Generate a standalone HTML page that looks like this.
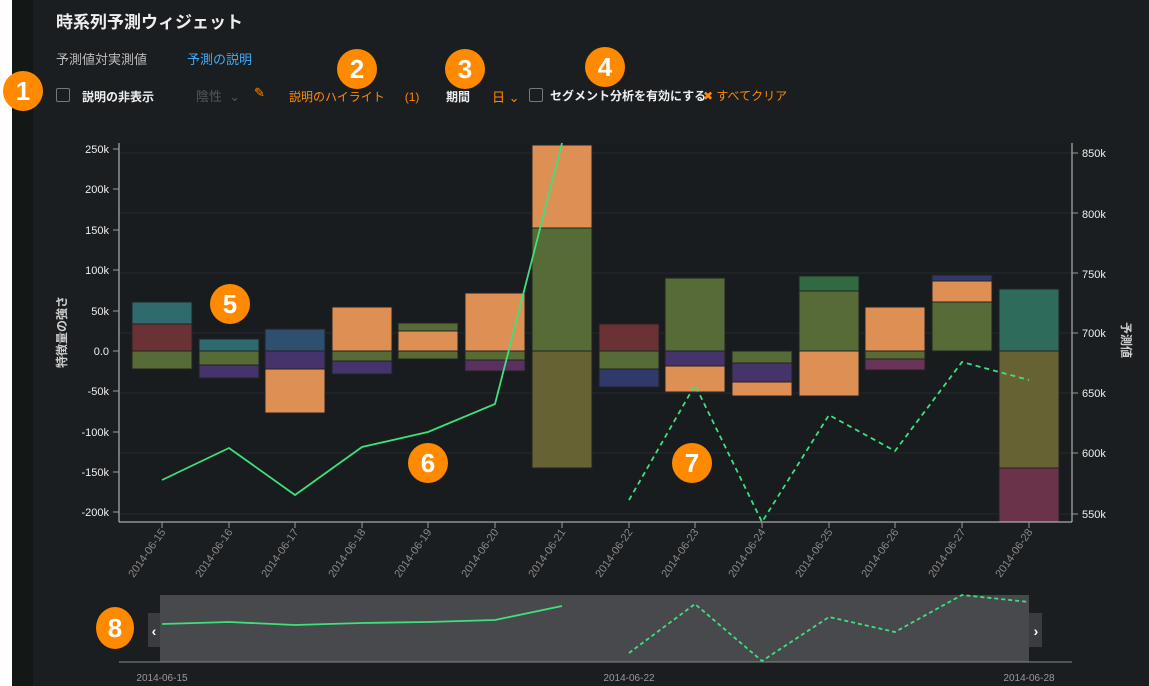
<!DOCTYPE html>
<html><head><meta charset="utf-8"><style>
body{margin:0;width:1149px;height:686px;overflow:hidden;background:#1b1e21;font-family:"Liberation Sans","Noto Sans CJK JP",sans-serif;position:relative}
.l{position:absolute;white-space:nowrap}
.b{position:absolute;border-radius:50%;background:#ff8a00;color:#fff;font-size:26px;font-weight:bold;text-align:center;font-family:"Liberation Sans",sans-serif}
.cb{position:absolute;width:12px;height:12px;border:1px solid #777;border-radius:2px}
</style></head><body>
<div style="position:absolute;left:0;top:0;width:12px;height:686px;background:#fff"></div>
<div style="position:absolute;left:12px;top:0;width:21px;height:686px;background:#131716"></div>
<div class="l" style="left:56px;top:8px;font-size:17px;color:#eee;font-weight:bold">時系列予測ウィジェット</div>
<div class="l" style="left:56px;top:49px;font-size:13px;color:#bbb">予測値対実測値</div>
<div class="l" style="left:187px;top:49px;font-size:13px;color:#3fa9f5">予測の説明</div>
<div class="cb" style="left:56px;top:88px"></div>
<div class="l" style="left:82px;top:88px;font-size:12px;color:#eee;font-weight:bold">説明の非表示</div>
<div class="l" style="left:196px;top:86px;font-size:13px;color:#555">陰性 &nbsp;⌄</div>
<div class="l" style="left:254px;top:85px;font-size:13px;color:#ff8a00">✎</div>
<div class="l" style="left:289px;top:88px;font-size:12px;color:#ff8a00">説明のハイライト &nbsp;&nbsp;&nbsp;&nbsp; (1)</div>
<div class="l" style="left:446px;top:88px;font-size:12px;color:#eee;font-weight:bold">期間</div>
<div class="l" style="left:492px;top:87px;font-size:13px;color:#ff8a00">日 ⌄</div>
<div class="cb" style="left:529px;top:88px"></div>
<div class="l" style="left:550px;top:87px;font-size:12px;color:#eee;font-weight:bold">セグメント分析を有効にする</div>
<div class="l" style="left:703px;top:87px;font-size:12px;color:#ff8a00">✖ すべてクリア</div>
<div class="b" style="left:3px;top:71px;width:40px;height:40px;line-height:40px">1</div>
<div class="b" style="left:337px;top:49px;width:40px;height:40px;line-height:40px">2</div>
<div class="b" style="left:445px;top:49px;width:40px;height:40px;line-height:40px">3</div>
<div class="b" style="left:585px;top:47px;width:40px;height:40px;line-height:40px">4</div>
<svg width="1149" height="686" style="position:absolute;left:0;top:0" font-family="Liberation Sans, Noto Sans CJK JP, sans-serif">
<rect x="119" y="143" width="953" height="379" fill="#181c1f"/>
<g stroke="#262a2d" stroke-width="1">
<line x1="119" x2="1072" y1="153" y2="153"/><line x1="119" x2="1072" y1="213" y2="213"/><line x1="119" x2="1072" y1="273" y2="273"/><line x1="119" x2="1072" y1="333" y2="333"/><line x1="119" x2="1072" y1="393" y2="393"/><line x1="119" x2="1072" y1="453" y2="453"/><line x1="119" x2="1072" y1="514" y2="514"/>
</g>
<g stroke="#222" stroke-width="1">
<rect x="132" y="302" width="60" height="22" fill="#2f6a6e"/><rect x="132" y="324" width="60" height="27" fill="#6a3235"/><rect x="132" y="351" width="60" height="18" fill="#566b35"/>
<rect x="199" y="339" width="60" height="12" fill="#2f6a6e"/><rect x="199" y="351" width="60" height="14" fill="#566b35"/><rect x="199" y="365" width="60" height="13" fill="#44346b"/>
<rect x="265" y="329" width="60" height="22" fill="#2f4f6e"/><rect x="265" y="351" width="60" height="18" fill="#44346b"/><rect x="265" y="369" width="60" height="44" fill="#de8f54"/>
<rect x="332" y="307" width="60" height="44" fill="#de8f54"/><rect x="332" y="351" width="60" height="10" fill="#566b35"/><rect x="332" y="361" width="60" height="13" fill="#44346b"/>
<rect x="398" y="323" width="60" height="8" fill="#566b35"/><rect x="398" y="331" width="60" height="20" fill="#de8f54"/><rect x="398" y="351" width="60" height="8" fill="#566b35"/>
<rect x="465" y="293" width="60" height="58" fill="#de8f54"/><rect x="465" y="351" width="60" height="9" fill="#566b35"/><rect x="465" y="360" width="60" height="11" fill="#5a3060"/>
<rect x="532" y="145" width="60" height="83" fill="#de8f54"/><rect x="532" y="228" width="60" height="123" fill="#566b35"/><rect x="532" y="351" width="60" height="117" fill="#666234"/>
<rect x="599" y="324" width="60" height="27" fill="#6a3235"/><rect x="599" y="351" width="60" height="18" fill="#566b35"/><rect x="599" y="369" width="60" height="18" fill="#2f3a6b"/>
<rect x="665" y="278" width="60" height="73" fill="#566b35"/><rect x="665" y="351" width="60" height="15" fill="#44346b"/><rect x="665" y="366" width="60" height="26" fill="#de8f54"/>
<rect x="732" y="351" width="60" height="12" fill="#566b35"/><rect x="732" y="363" width="60" height="19" fill="#44346b"/><rect x="732" y="382" width="60" height="14" fill="#de8f54"/>
<rect x="799" y="276" width="60" height="15" fill="#306a40"/><rect x="799" y="291" width="60" height="60" fill="#566b35"/><rect x="799" y="351" width="60" height="45" fill="#de8f54"/>
<rect x="865" y="307" width="60" height="44" fill="#de8f54"/><rect x="865" y="351" width="60" height="8" fill="#566b35"/><rect x="865" y="359" width="60" height="11" fill="#6a3358"/>
<rect x="932" y="275" width="60" height="6" fill="#2f3a6b"/><rect x="932" y="281" width="60" height="21" fill="#de8f54"/><rect x="932" y="302" width="60" height="49" fill="#566b35"/>
<rect x="999" y="289" width="60" height="62" fill="#2e6b5a"/><rect x="999" y="351" width="60" height="117" fill="#666234"/><rect x="999" y="468" width="60" height="54" fill="#6a3349"/>
</g>
<polyline points="162,480 229,448 295,495 362,447 428,432 495,404 562,143" fill="none" stroke="#3ee07e" stroke-width="1.8"/>
<polyline points="629,500 695,385 762,522 829,415 895,451 962,362 1029,380" fill="none" stroke="#3ee07e" stroke-width="1.8" stroke-dasharray="5,4"/>
<g stroke="#ccc" stroke-width="1">
<line x1="119" y1="143" x2="119" y2="522"/><line x1="1072" y1="143" x2="1072" y2="522"/><line x1="119" y1="522" x2="1072" y2="522"/>
</g>
<g stroke="#999" stroke-width="1">
<line x1="113" x2="119" y1="149" y2="149"/><line x1="113" x2="119" y1="189" y2="189"/><line x1="113" x2="119" y1="230" y2="230"/><line x1="113" x2="119" y1="270" y2="270"/><line x1="113" x2="119" y1="311" y2="311"/><line x1="113" x2="119" y1="351" y2="351"/><line x1="113" x2="119" y1="391" y2="391"/><line x1="113" x2="119" y1="432" y2="432"/><line x1="113" x2="119" y1="472" y2="472"/><line x1="113" x2="119" y1="512" y2="512"/>
<line x1="1072" x2="1078" y1="153" y2="153"/><line x1="1072" x2="1078" y1="213" y2="213"/><line x1="1072" x2="1078" y1="273" y2="273"/><line x1="1072" x2="1078" y1="333" y2="333"/><line x1="1072" x2="1078" y1="393" y2="393"/><line x1="1072" x2="1078" y1="453" y2="453"/><line x1="1072" x2="1078" y1="514" y2="514"/>
<line x1="162" x2="162" y1="522" y2="528"/><line x1="229" x2="229" y1="522" y2="528"/><line x1="295" x2="295" y1="522" y2="528"/><line x1="362" x2="362" y1="522" y2="528"/><line x1="428" x2="428" y1="522" y2="528"/><line x1="495" x2="495" y1="522" y2="528"/><line x1="562" x2="562" y1="522" y2="528"/><line x1="629" x2="629" y1="522" y2="528"/><line x1="695" x2="695" y1="522" y2="528"/><line x1="762" x2="762" y1="522" y2="528"/><line x1="829" x2="829" y1="522" y2="528"/><line x1="895" x2="895" y1="522" y2="528"/><line x1="962" x2="962" y1="522" y2="528"/><line x1="1029" x2="1029" y1="522" y2="528"/>
</g>
<g fill="#eee" font-size="11" text-anchor="end">
<text x="109" y="153">250k</text><text x="109" y="193">200k</text><text x="109" y="234">150k</text><text x="109" y="274">100k</text><text x="109" y="315">50k</text><text x="109" y="355">0.0</text><text x="109" y="395">-50k</text><text x="109" y="436">-100k</text><text x="109" y="476">-150k</text><text x="109" y="516">-200k</text>
</g>
<g fill="#eee" font-size="11">
<text x="1082" y="157">850k</text><text x="1082" y="218">800k</text><text x="1082" y="278">750k</text><text x="1082" y="337">700k</text><text x="1082" y="397">650k</text><text x="1082" y="457">600k</text><text x="1082" y="518">550k</text>
</g>
<text transform="translate(66,332) rotate(-90)" fill="#ccc" font-size="12" font-weight="bold" text-anchor="middle">特徴量の強さ</text>
<text transform="translate(1122,340) rotate(90)" fill="#ccc" font-size="12" font-weight="bold" text-anchor="middle">予測値</text>
<g fill="#888" font-size="11" text-anchor="end">
<text transform="translate(166,532) rotate(-55)">2014-06-15</text><text transform="translate(233,532) rotate(-55)">2014-06-16</text><text transform="translate(299,532) rotate(-55)">2014-06-17</text><text transform="translate(366,532) rotate(-55)">2014-06-18</text><text transform="translate(432,532) rotate(-55)">2014-06-19</text><text transform="translate(499,532) rotate(-55)">2014-06-20</text><text transform="translate(566,532) rotate(-55)">2014-06-21</text><text transform="translate(633,532) rotate(-55)">2014-06-22</text><text transform="translate(699,532) rotate(-55)">2014-06-23</text><text transform="translate(766,532) rotate(-55)">2014-06-24</text><text transform="translate(833,532) rotate(-55)">2014-06-25</text><text transform="translate(899,532) rotate(-55)">2014-06-26</text><text transform="translate(966,532) rotate(-55)">2014-06-27</text><text transform="translate(1033,532) rotate(-55)">2014-06-28</text>
</g>
<rect x="160" y="595" width="869" height="67" fill="#47494c"/>
<rect x="148" y="613" width="12" height="34" fill="#3a3c3f"/><rect x="1029" y="613" width="13" height="34" fill="#3a3c3f"/>
<text x="154" y="636" fill="#fff" font-size="14" text-anchor="middle" font-weight="bold">‹</text>
<text x="1036" y="636" fill="#fff" font-size="14" text-anchor="middle" font-weight="bold">›</text>
<polyline points="162,624 229,622 295,625 362,623 428,622 495,620 562,606" fill="none" stroke="#3ee07e" stroke-width="1.8"/>
<polyline points="629,653 695,604 762,661 829,617 895,632 962,595 1029,602" fill="none" stroke="#3ee07e" stroke-width="1.8" stroke-dasharray="4,3"/>
<line x1="119" y1="662" x2="1072" y2="662" stroke="#888"/>
<g fill="#999" font-size="10" text-anchor="middle"><text x="162" y="681">2014-06-15</text><text x="629" y="681">2014-06-22</text><text x="1029" y="681">2014-06-28</text></g>
</svg>
<div class="b" style="left:210px;top:284px;width:40px;height:40px;line-height:40px">5</div>
<div class="b" style="left:408px;top:443px;width:40px;height:40px;line-height:40px">6</div>
<div class="b" style="left:672px;top:443px;width:40px;height:40px;line-height:40px">7</div>
<div class="b" style="left:96px;top:607px;width:38px;height:42px;line-height:42px">8</div>
</body></html>
